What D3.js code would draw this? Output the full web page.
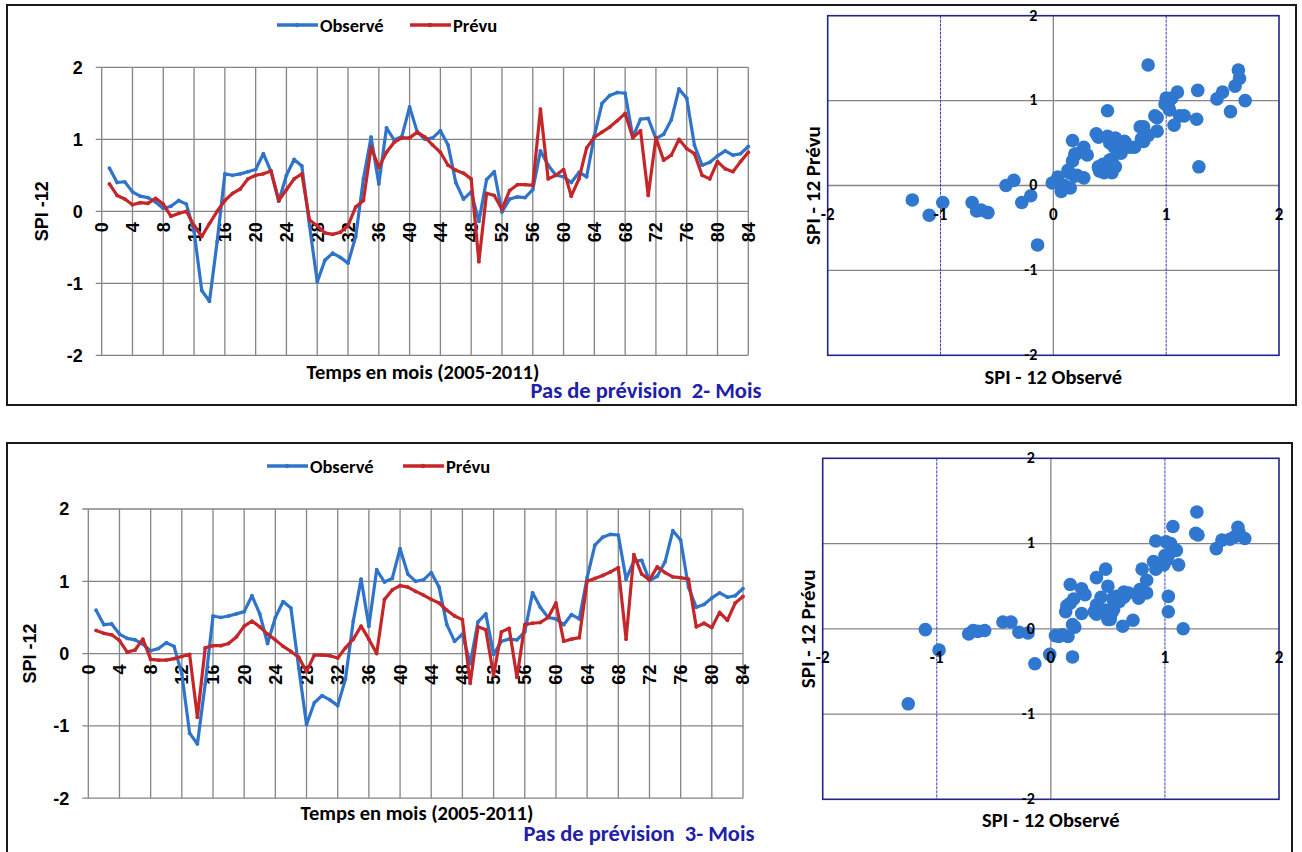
<!DOCTYPE html>
<html>
<head>
<meta charset="utf-8">
<script src="https://cdn.jsdelivr.net/npm/d3@7"></script>
<style>
  body { margin: 0; background: #fff; }
  svg { display: block; }
</style>
</head>
<body>
<div id="chart"></div>
<script>
// months 1..84 (x values of every series)
const months = d3.range(1, 85);
const xTickLabels = [0, 4, 8, 12, 16, 20, 24, 28, 32, 36, 40, 44, 48, 52, 56, 60, 64, 68, 72, 76, 80, 84];
const yTickLabels = [-2, -1, 0, 1, 2];

// SPI-12 observed
const observed = [
  0.60, 0.40, 0.41, 0.27, 0.21, 0.19, 0.13, 0.04, 0.07, 0.15,
  0.10, -0.28, -1.10, -1.25, -0.42, 0.52, 0.50, 0.52, 0.55, 0.58,
  0.80, 0.55, 0.14, 0.50, 0.72, 0.63, -0.20, -0.98, -0.68, -0.58,
  -0.64, -0.72, -0.35, 0.45, 1.03, 0.38, 1.16, 0.99, 1.04, 1.45,
  1.10, 1.00, 1.02, 1.12, 0.92, 0.40, 0.17, 0.27, -0.14, 0.44,
  0.55, -0.01, 0.17, 0.20, 0.19, 0.30, 0.84, 0.64, 0.50, 0.48,
  0.40, 0.54, 0.48, 1.05, 1.50, 1.61, 1.65, 1.64, 1.03, 1.28,
  1.29, 1.01, 1.07, 1.27, 1.70, 1.57, 0.92, 0.64, 0.68, 0.77,
  0.84, 0.78, 0.80, 0.90
];

// SPI-12 forecast, 2-month step
const predicted2 = [
  0.38, 0.22, 0.17, 0.09, 0.12, 0.11, 0.18, 0.10, -0.07, -0.03,
  0.00, -0.20, -0.35, -0.17, 0.00, 0.15, 0.25, 0.31, 0.45, 0.50,
  0.52, 0.56, 0.15, 0.30, 0.45, 0.52, -0.12, -0.20, -0.30, -0.32,
  -0.29, -0.20, 0.06, 0.15, 0.89, 0.61, 0.82, 0.96, 1.02, 1.02,
  1.10, 1.03, 0.92, 0.82, 0.64, 0.57, 0.53, 0.45, -0.70, 0.25,
  0.22, 0.03, 0.29, 0.37, 0.37, 0.36, 1.42, 0.45, 0.50, 0.58,
  0.21, 0.45, 0.88, 1.03, 1.10, 1.17, 1.26, 1.36, 1.02, 1.12,
  0.22, 1.02, 0.71, 0.78, 1.00, 0.87, 0.80, 0.50, 0.45, 0.69,
  0.59, 0.55, 0.69, 0.82
];

// SPI-12 forecast, 3-month step
const predicted3 = [
  0.32, 0.28, 0.26, 0.18, 0.02, 0.05, 0.20, -0.08, -0.09, -0.09,
  -0.07, -0.04, -0.01, -0.88, 0.08, 0.11, 0.11, 0.14, 0.23, 0.38,
  0.45, 0.37, 0.27, 0.19, 0.10, 0.03, -0.05, -0.25, -0.02, -0.02,
  -0.03, -0.06, 0.08, 0.20, 0.38, 0.20, 0.00, 0.75, 0.88, 0.94,
  0.92, 0.86, 0.81, 0.75, 0.70, 0.60, 0.52, 0.47, -0.41, 0.37,
  0.33, -0.30, 0.30, 0.35, -0.33, 0.40, 0.42, 0.43, 0.50, 0.70,
  0.17, 0.20, 0.22, 1.00, 1.04, 1.08, 1.13, 1.19, 0.20, 1.37,
  1.10, 1.02, 1.20, 1.12, 1.06, 1.05, 1.03, 0.37, 0.42, 0.36,
  0.57, 0.46, 0.70, 0.79
];

const seriesNames = ["Observé", "Prévu"];
const blue = "#2f74c9";
const red = "#c4262a";
const grid = "#858585";
const navy = "#23238a";
const numFont = "'Liberation Sans', Arial, sans-serif";
const titleFont = "Carlito, Lato, 'Liberation Sans', sans-serif";

const svg = d3.select("#chart").append("svg")
    .attr("width", 1302)
    .attr("height", 852);

const panels = [
  {
    pred: predicted2, pas: "Pas de prévision  2- Mois",
    box: [7, 5, 1296, 405],
    lx: [101.7, 748.3], ly: [67.3, 355.3],
    legendX: 277, redOffset: 133, legendY: 25, spiX: 42,
    titleX: 423, titleY: 379, pasX: 646, pasY: 398,
    sx: [827.7, 1279], sy: [15.7, 355.3], prevuX: 812, obsY: 384
  },
  {
    pred: predicted3, pas: "Pas de prévision  3- Mois",
    box: [7, 443, 1292, 900],
    lx: [88.3, 743], ly: [509, 798.2],
    legendX: 267, redOffset: 136, legendY: 466, spiX: 30,
    titleX: 417, titleY: 820, pasX: 639, pasY: 841,
    sx: [822.7, 1279], sy: [458.3, 799.3], prevuX: 807, obsY: 827
  }
];

panels.forEach(function (p) {
  const g = svg.append("g");

  // outer frame
  g.append("rect")
      .attr("x", p.box[0]).attr("y", p.box[1])
      .attr("width", p.box[2] - p.box[0]).attr("height", p.box[3] - p.box[1])
      .attr("fill", "none").attr("stroke", "#1a1a1a").attr("stroke-width", 2);

  // ---------- line chart ----------
  const x = d3.scaleLinear().domain([0, 84]).range(p.lx);
  const y = d3.scaleLinear().domain([-2, 2]).range([p.ly[1], p.ly[0]]);

  g.selectAll(".vgrid").data(xTickLabels).enter().append("line")
      .attr("x1", d => x(d)).attr("x2", d => x(d))
      .attr("y1", y(2)).attr("y2", y(-2))
      .attr("stroke", grid).attr("stroke-width", 1.3);

  g.selectAll(".hgrid").data(yTickLabels).enter().append("line")
      .attr("x1", x(0) - 6).attr("x2", x(84))
      .attr("y1", d => y(d)).attr("y2", d => y(d))
      .attr("stroke", grid).attr("stroke-width", 1.3);

  g.selectAll(".ytick").data(yTickLabels).enter().append("text")
      .attr("x", x(0) - 19).attr("y", d => y(d)).attr("dy", "0.36em")
      .attr("text-anchor", "end")
      .style("font", "bold 18px " + numFont)
      .text(d => d);

  g.selectAll(".xtick").data(xTickLabels).enter().append("text")
      .attr("transform", d => "translate(" + x(d) + "," + (y(0) + 11) + ") rotate(-90)")
      .attr("dy", "0.36em")
      .attr("text-anchor", "end")
      .style("font", "bold 18px " + numFont)
      .text(d => d);

  g.append("text")
      .attr("transform", "translate(" + p.spiX + "," + y(0) + ") rotate(-90)")
      .attr("dy", "0.36em")
      .attr("text-anchor", "middle")
      .style("font", "bold 18px " + numFont)
      .text("SPI -12");

  const line = d3.line()
      .x((d, i) => x(months[i]))
      .y(d => y(d));

  [[observed, blue], [p.pred, red]].forEach(function (s) {
    g.append("path")
        .datum(s[0])
        .attr("d", line)
        .attr("fill", "none")
        .attr("stroke", s[1])
        .attr("stroke-width", 3.2)
        .attr("stroke-linejoin", "round");
    g.selectAll(null).data(s[0]).enter().append("circle")
        .attr("cx", (d, i) => x(months[i])).attr("cy", d => y(d))
        .attr("r", 1.9).attr("fill", s[1]);
  });

  // legend
  const lg = g.append("g").attr("transform", "translate(" + p.legendX + "," + p.legendY + ")");
  [[blue, 0], [red, p.redOffset]].forEach(function (l, i) {
    lg.append("line").attr("x1", l[1]).attr("x2", l[1] + 41)
        .attr("stroke", l[0]).attr("stroke-width", 3.4);
    lg.append("circle").attr("cx", l[1] + 20).attr("r", 2.2).attr("fill", l[0]);
    lg.append("text").attr("x", l[1] + 43).attr("dy", "0.36em")
        .style("font", "bold 18.5px " + titleFont)
        .text(seriesNames[i]);
  });

  g.append("text")
      .attr("x", p.titleX).attr("y", p.titleY)
      .attr("text-anchor", "middle")
      .style("font", "bold 20.5px " + titleFont)
      .text("Temps en mois (2005-2011)");

  g.append("text")
      .attr("x", p.pasX).attr("y", p.pasY)
      .attr("text-anchor", "middle")
      .attr("fill", "#2020a8")
      .style("font", "bold 22.5px " + titleFont)
      .style("white-space", "pre")
      .text(p.pas);

  // ---------- scatter ----------
  const sx = d3.scaleLinear().domain([-2, 2]).range(p.sx);
  const sy = d3.scaleLinear().domain([-2, 2]).range([p.sy[1], p.sy[0]]);

  [-1, 0, 1].forEach(function (v) {
    g.append("line")
        .attr("x1", sx(-2)).attr("x2", sx(2)).attr("y1", sy(v)).attr("y2", sy(v))
        .attr("stroke", grid).attr("stroke-width", 1.3);
  });
  g.append("line")
      .attr("x1", sx(0)).attr("x2", sx(0)).attr("y1", sy(2)).attr("y2", sy(-2))
      .attr("stroke", grid).attr("stroke-width", 1.3);
  [-1, 1].forEach(function (v) {
    g.append("line")
        .attr("x1", sx(v)).attr("x2", sx(v)).attr("y1", sy(2)).attr("y2", sy(-2))
        .attr("stroke", "#3c3cc0").attr("stroke-width", 1)
        .attr("stroke-dasharray", "3,1");
  });
  g.append("rect")
      .attr("x", sx(-2)).attr("y", sy(2))
      .attr("width", sx(2) - sx(-2)).attr("height", sy(-2) - sy(2))
      .attr("fill", "none").attr("stroke", navy).attr("stroke-width", 1.6);

  g.selectAll(".dot").data(observed).enter().append("circle")
      .attr("cx", d => sx(d))
      .attr("cy", (d, i) => sy(p.pred[i]))
      .attr("r", 6.8)
      .attr("fill", "#2f77cf");

  g.selectAll(".sxt").data(yTickLabels).enter().append("text")
      .attr("x", d => sx(d)).attr("y", sy(0) + 34)
      .attr("text-anchor", "middle")
      .style("font", "bold 17px " + titleFont)
      .text(d => d);
  g.selectAll(".syt").data(yTickLabels).enter().append("text")
      .attr("x", sx(0) - 16).attr("y", d => sy(d)).attr("dy", "0.3em")
      .attr("text-anchor", "end")
      .style("font", "bold 16px " + titleFont)
      .text(d => d);

  g.append("text")
      .attr("transform", "translate(" + p.prevuX + "," + sy(0) + ") rotate(-90)")
      .attr("dy", "0.36em")
      .attr("text-anchor", "middle")
      .style("font", "bold 21px " + titleFont)
      .text("SPI - 12 Prévu");
  g.append("text")
      .attr("x", sx(0)).attr("y", p.obsY)
      .attr("text-anchor", "middle")
      .style("font", "bold 20.5px " + titleFont)
      .text("SPI - 12 Observé");
});
</script>
</body>
</html>
